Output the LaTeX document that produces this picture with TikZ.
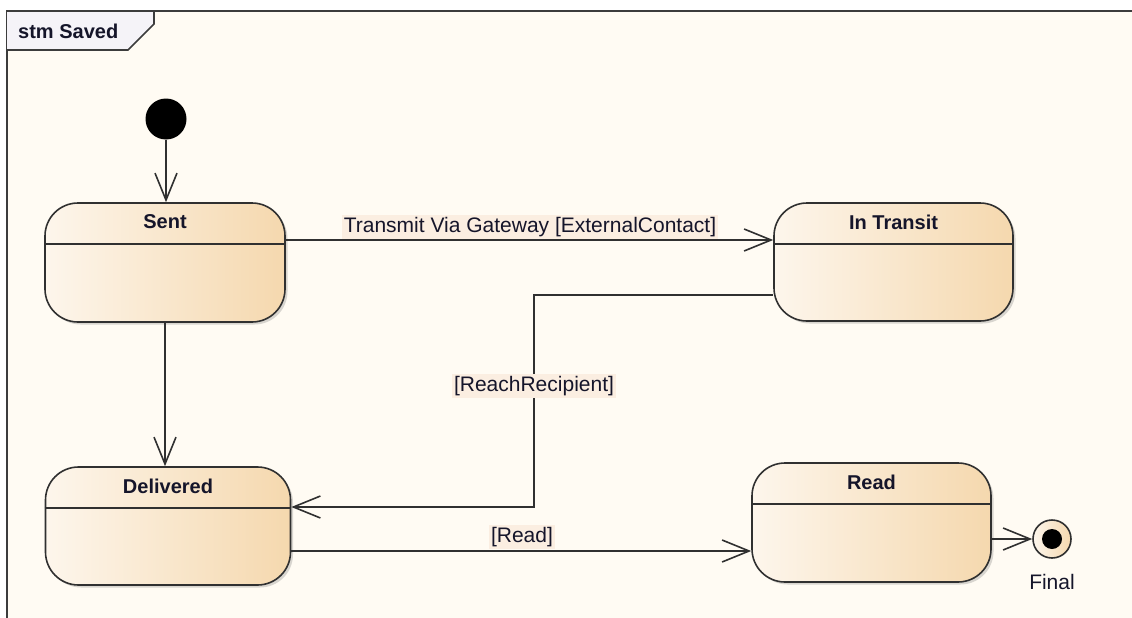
\documentclass[tikz,border=0pt]{standalone}
\usepackage{fontspec}
\setmainfont{Liberation Sans}
\usetikzlibrary{arrows.meta,shadows}
\definecolor{bgc}{HTML}{FFFBF3}
\definecolor{linec}{HTML}{303030}
\definecolor{framec}{HTML}{3C3C3C}
\definecolor{tabc}{HTML}{F5F3F8}
\definecolor{stl}{HTML}{FDF6EC}
\definecolor{str}{HTML}{F5D8AE}
\definecolor{lblbg}{HTML}{FBEEE1}
\definecolor{txtc}{HTML}{15152A}
\tikzset{
  statebox/.style={draw=linec, line width=1.6pt, rounded corners=33pt,
    left color=stl, right color=str, inner sep=0pt,
    drop shadow={shadow xshift=2.5pt, shadow yshift=-2.5pt, opacity=0.25, fill=black!60}},
  titletext/.style={font=\fontsize{20}{24}\selectfont\bfseries, text=txtc, inner sep=0pt},
  divline/.style={draw=linec, line width=1.6pt},
  trans/.style={draw=linec, line width=1.6pt,
    -{Straight Barb[length=27pt,width=22pt,line width=1.6pt]}},
  lbl/.style={font=\fontsize{21}{24}\selectfont, text=txtc, fill=lblbg, inner sep=2pt},
  plain/.style={font=\fontsize{21}{24}\selectfont, text=txtc, inner sep=1pt}
}
\begin{document}
\begin{tikzpicture}[x=1pt,y=-1pt]
\useasboundingbox (0,0) rectangle (1132,618);
\fill[white] (0,0) rectangle (1132,618);
% frame
\draw[draw=framec, line width=2.4pt, fill=bgc] (7,11) rectangle (1150,640);
\draw[draw=framec, line width=1.6pt, fill=tabc] (7,11) -- (154,11) -- (154,24) -- (128,50) -- (7,50);
\node[titletext, anchor=west] (frame-t) at (18,31) {stm Saved};

% initial
\node[circle, fill=black, minimum size=41pt, inner sep=0pt] (init) at (166,119) {};

% states
\node[statebox, minimum width=240pt, minimum height=119pt] (sent) at (165,262.5) {};
\node[titletext] (sent-t) at (165,222) {Sent};
\draw[divline] ([yshift=-42pt]sent.north west) -- ([yshift=-42pt]sent.north east);

\node[statebox, minimum width=239pt, minimum height=118pt] (transit) at (893.5,262) {};
\node[titletext] (transit-t) at (893.5,222) {In Transit};
\draw[divline] ([yshift=-42pt]transit.north west) -- ([yshift=-42pt]transit.north east);

\node[statebox, minimum width=245pt, minimum height=118pt] (delivered) at (168,526) {};
\node[titletext] (delivered-t) at (168,486) {Delivered};
\draw[divline] ([yshift=-42pt]delivered.north west) -- ([yshift=-42pt]delivered.north east);

\node[statebox, minimum width=239pt, minimum height=119pt] (read) at (871.5,522.5) {};
\node[titletext] (read-t) at (871.5,482) {Read};
\draw[divline] ([yshift=-42pt]read.north west) -- ([yshift=-42pt]read.north east);

% final
\node[circle, draw=linec, line width=1.6pt, minimum size=38pt, inner sep=0pt,
  left color=stl, right color=str] (final) at (1052,539) {};
\node[circle, fill=black, minimum size=20pt, inner sep=0pt] (final-dot) at (final) {};
\node[plain] (final-l) at (1052,582) {Final};

% transitions
\draw[trans] (init) -- (init |- sent.north);
\draw[trans] (sent.south) -- (sent.south |- delivered.north);
\draw[trans] (sent.east |- 0,240) -- (transit.west |- 0,240);
\node[lbl] (l-transmit) at (530,227) {Transmit Via Gateway [ExternalContact]};
\coordinate (bend) at (534,507);
\draw[trans] (transit.west |- 0,295) -| (bend) -- (delivered.east |- bend);
\node[lbl] (l-reach) at (534,386) {[ReachRecipient]};
\draw[trans] (delivered.east |- 0,551) -- (read.west |- 0,551);
\node[lbl] (l-read) at (522,537) {[Read]};
\draw[trans] (read.east |- final) -- (final);
\end{tikzpicture}
\end{document}
